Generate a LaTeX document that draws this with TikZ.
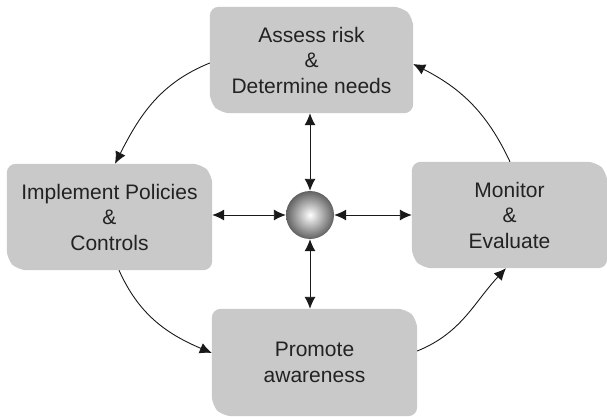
\documentclass[tikz,border=0pt]{standalone}
\usepackage{fontspec}
\setmainfont{Liberation Sans}
\usetikzlibrary{arrows.meta,backgrounds,calc}
\definecolor{boxgray}{RGB}{201,201,201}
\definecolor{textgray}{RGB}{34,34,34}
\newcommand\snipfill[1]{%
  \fill[boxgray, rounded corners=9]
    ([xshift=-11pt]#1.north east) -- ([yshift=-11pt]#1.north east) --
    (#1.south east) -- ([xshift=11pt]#1.south west) --
    ([yshift=11pt]#1.south west) -- (#1.north west) -- cycle;}
\begin{document}
\begin{tikzpicture}[x=1pt,y=-1pt,
  box/.style={rectangle, inner sep=0pt, align=center, text=textgray,
    font=\fontsize{21}{25.5}\selectfont},
  conn/.style={line width=0.9pt, black!90},
  tip/.style={-{Latex[length=12pt,width=11pt]}},
  both/.style={{Latex[length=12pt,width=11pt]}-{Latex[length=12pt,width=11pt]}}]
\useasboundingbox (0,0) rectangle (607,417);

\node[box, minimum width=203pt, minimum height=106pt] (assess) at (311.5,60)
  {Assess risk\\\&\\Determine needs};
\node[box, minimum width=205pt, minimum height=106pt] (impl) at (109.5,217)
  {Implement Policies\\\&\\Controls};
\node[box, minimum width=195pt, minimum height=106pt] (mon) at (509.5,215)
  {Monitor\\\&\\Evaluate};
\node[box, minimum width=205pt, minimum height=107pt] (prom) at (314.5,362.5)
  {Promote\\awareness};

\node[circle, minimum size=48pt, inner sep=0pt,
  inner color=white, outer color=black!62] (hub) at (310,215) {};

\begin{scope}[on background layer]
  \snipfill{assess}
  \snipfill{impl}
  \snipfill{mon}
  \snipfill{prom}
\end{scope}

% straight connectors
\draw[conn, both] (assess.south -| hub) -- (hub.north);
\draw[conn, both] (prom.north -| hub) -- (hub.south);
\draw[conn, both] (impl.east |- hub) -- (hub.west);
\draw[conn, both] (mon.west |- hub) -- (hub.east);

% curved cycle connectors
\coordinate (c1s) at (assess.west |- 0,63);
\coordinate (c1e) at (impl.north -| 115,0);
\coordinate (c2s) at (impl.south -| 119,0);
\coordinate (c2e) at (prom.west |- 0,353);
\coordinate (c3s) at (prom.east |- 0,351);
\coordinate (c3e) at (mon.south -| 506,0);
\coordinate (c4s) at (mon.north -| 510,0);
\coordinate (c4e) at (assess.east |- 0,64);

\draw[conn, tip] (c1s) to[out=202, in=63] (c1e);
\draw[conn, tip] (c2s) to[out=-66, in=157] (c2e);
\draw[conn, tip] (c3s) to[out=22, in=-133] (c3e);
\draw[conn, tip] (c4s) to[out=115, in=-27] (c4e);
\end{tikzpicture}
\end{document}
